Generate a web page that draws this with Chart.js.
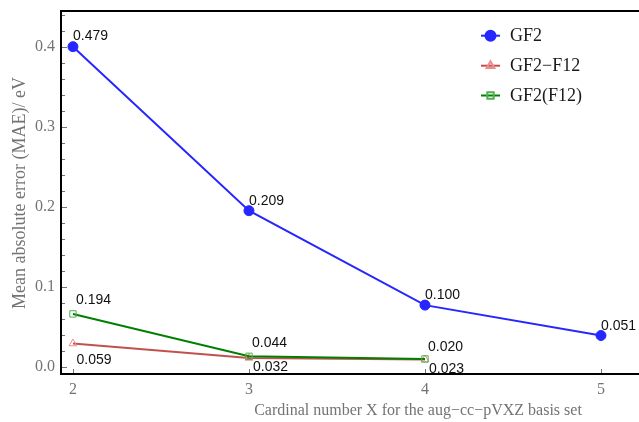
<!DOCTYPE html>
<html>
<head>
<meta charset="utf-8">
<script src="https://cdn.jsdelivr.net/npm/chart.js@4.4.1/dist/chart.umd.min.js"></script>
<style>
    html, body { margin: 0; padding: 0; background: #fff; }
    #wrap { width: 639px; height: 422px; }
</style>
</head>
<body>
<div id="wrap"><canvas id="mae" width="639" height="422"></canvas></div>
<script>
// cardinal number X and MAE values
const xValues = [2, 3, 4, 5];
const gf2Values = [0.400, 0.195, 0.077, 0.039];
const gf2F12Values = [0.029, 0.011, 0.009];
const gf2ParenF12Values = [0.066, 0.013, 0.0097];

// the numbers printed next to the points
const gf2Labels = ['0.479', '0.209', '0.100', '0.051'];
const gf2F12Labels = ['0.059', '0.032', '0.023'];
const gf2ParenF12Labels = ['0.194', '0.044', '0.020'];

const seriesNames = ['GF2', 'GF2\u2212F12', 'GF2(F12)'];
const xTickValues = [2, 3, 4, 5];
const yTickValues = [0, 0.1, 0.2, 0.3, 0.4];

const xTitle = 'Cardinal number X for the aug\u2212cc\u2212pVXZ basis set';
const yTitle = 'Mean absolute error (MAE)/ eV';

const GRAY = '#737373';
const SERIF = '"Liberation Serif", "Times New Roman", serif';
const SANS = '"Liberation Sans", Arial, sans-serif';

function toPoints(values) {
    return values.map((y, i) => ({ x: xValues[i], y }));
}

// draws the frame top, inside ticks, point labels, legend and axis titles
const decorations = {
    id: 'decorations',
    afterDraw(chart) {
        const ctx = chart.ctx;
        const area = chart.chartArea;
        const xs = chart.scales.x;
        const ys = chart.scales.y;
        ctx.save();

        // top frame line
        ctx.strokeStyle = '#000';
        ctx.lineWidth = 2;
        ctx.beginPath();
        ctx.moveTo(area.left - 1, area.top);
        ctx.lineTo(area.right, area.top);
        ctx.stroke();

        // inside ticks
        ctx.strokeStyle = GRAY;
        ctx.lineWidth = 1;
        ctx.beginPath();
        for (let k = 0; k <= 22; k++) {
            const v = k * 0.02;
            const py = Math.round(ys.getPixelForValue(v)) + 0.5;
            const len = (k % 5 === 0) ? 5 : 3;
            ctx.moveTo(area.left + 1, py);
            ctx.lineTo(area.left + 1 + len, py);
        }
        xTickValues.forEach(v => {
            const px = Math.round(xs.getPixelForValue(v)) + 0.5;
            ctx.moveTo(px, area.bottom - 1);
            ctx.lineTo(px, area.bottom - 5);
        });
        ctx.stroke();

        // point labels
        ctx.font = '14px ' + SANS;
        ctx.fillStyle = '#111';
        ctx.textAlign = 'left';
        ctx.textBaseline = 'alphabetic';
        chart.data.datasets.forEach((ds, i) => {
            const meta = chart.getDatasetMeta(i);
            meta.data.forEach((pt, j) => {
                const off = ds.labelOffsets[j];
                ctx.fillText(ds.pointLabels[j], pt.x + off[0], pt.y + off[1] + 5);
            });
        });

        // legend
        const legendRows = [35.7, 65.7, 95.5];
        chart.data.datasets.forEach((ds, i) => {
            const y = legendRows[i];
            ctx.strokeStyle = ds.borderColor;
            ctx.lineWidth = 2;
            ctx.beginPath();
            ctx.moveTo(481, y);
            ctx.lineTo(500, y);
            ctx.stroke();
            ctx.fillStyle = ds.pointBackgroundColor;
            ctx.strokeStyle = ds.pointBorderColor;
            Chart.helpers.drawPoint(ctx, {
                pointStyle: ds.pointStyle,
                radius: ds.pointRadius,
                borderWidth: ds.pointBorderWidth,
                rotation: 0
            }, 490.5, y);
            ctx.fillStyle = '#1a1a1a';
            ctx.font = '18px ' + SERIF;
            ctx.fillText(seriesNames[i], 510, y + 5.5);
        });

        // axis titles
        ctx.fillStyle = GRAY;
        ctx.font = '16px ' + SERIF;
        ctx.textAlign = 'center';
        ctx.textBaseline = 'middle';
        ctx.fillText(xTitle, 418, 411);
        ctx.font = '18px ' + SERIF;
        ctx.translate(20, 193);
        ctx.rotate(-Math.PI / 2);
        ctx.fillText(yTitle, 0, 0);

        ctx.restore();
    }
};

const datasets = [
    {
        label: seriesNames[0],
        data: toPoints(gf2Values),
        pointLabels: gf2Labels,
        labelOffsets: [[0, -12], [0, -11], [0, -11.5], [0, -11]],
        borderColor: 'rgb(38,38,255)',
        borderWidth: 2,
        pointStyle: 'circle',
        pointRadius: 5,
        pointBackgroundColor: 'rgb(38,38,255)',
        pointBorderColor: 'rgb(38,38,255)',
        pointBorderWidth: 1,
        order: 0
    },
    {
        label: seriesNames[1],
        data: toPoints(gf2F12Values),
        pointLabels: gf2F12Labels,
        labelOffsets: [[3.5, 15], [4, 8.5], [4, 8]],
        borderColor: 'rgb(192,82,78)',
        borderWidth: 2,
        pointStyle: 'triangle',
        pointRadius: 4.5,
        pointBackgroundColor: 'rgba(255,255,255,0)',
        pointBorderColor: 'rgb(236,140,140)',
        pointBorderWidth: 1,
        order: 2
    },
    {
        label: seriesNames[2],
        data: toPoints(gf2ParenF12Values),
        pointLabels: gf2ParenF12Labels,
        labelOffsets: [[3, -15], [3, -14.5], [3, -13]],
        borderColor: 'rgb(0,128,0)',
        borderWidth: 2,
        pointStyle: 'rect',
        pointRadius: 4.5,
        pointBackgroundColor: 'rgba(255,255,255,0)',
        pointBorderColor: 'rgb(80,175,80)',
        pointBorderWidth: 1,
        order: 1
    }
];

function noPadding(scale) {
    scale.paddingTop = 0;
    scale.paddingBottom = 0;
    scale.paddingLeft = 0;
    scale.paddingRight = 0;
}

new Chart(document.getElementById('mae'), {
    type: 'line',
    data: { datasets },
    options: {
        responsive: false,
        animation: false,
        layout: { autoPadding: false, padding: { top: 11, left: 0, right: 0, bottom: 0 } },
        plugins: {
            legend: { display: false },
            tooltip: { enabled: false }
        },
        elements: { line: { tension: 0 } },
        scales: {
            x: {
                type: 'linear',
                min: 1.932,
                max: 5.216,
                afterBuildTicks: (scale) => { scale.ticks = xTickValues.map(v => ({ value: v })); },
                afterFit: (scale) => { scale.height = 48; noPadding(scale); },
                grid: { display: false, drawTicks: false },
                border: { display: true, color: '#000', width: 2 },
                ticks: {
                    color: GRAY,
                    font: { family: SERIF, size: 16 },
                    padding: 6,
                    maxRotation: 0,
                    callback: (v) => String(v)
                }
            },
            y: {
                type: 'linear',
                min: -0.0091,
                max: 0.4446,
                afterBuildTicks: (scale) => { scale.ticks = yTickValues.map(v => ({ value: v })); },
                afterFit: (scale) => { scale.width = 61; noPadding(scale); },
                grid: { display: false, drawTicks: false },
                border: { display: true, color: '#000', width: 2 },
                ticks: {
                    color: GRAY,
                    font: { family: SERIF, size: 16 },
                    padding: 6,
                    callback: (v) => Number(v).toFixed(1)
                }
            }
        }
    },
    plugins: [decorations]
});
</script>
</body>
</html>
